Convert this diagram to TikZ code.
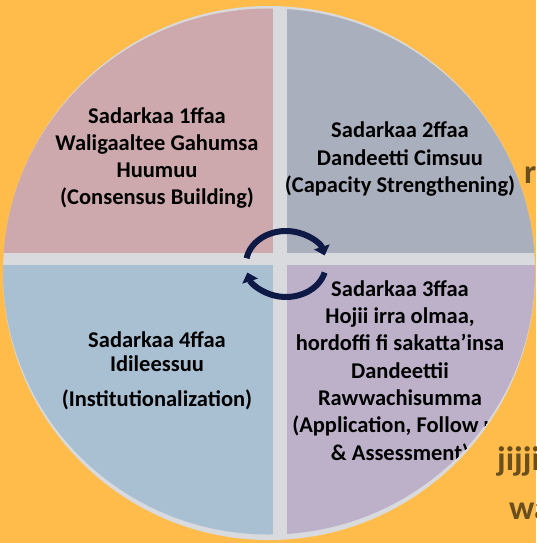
\documentclass[tikz,border=0pt]{standalone}
\usepackage{fontspec}
\setmainfont{Carlito}
\usetikzlibrary{arrows.meta}
\definecolor{bgorange}{RGB}{255,188,75}
\definecolor{bargray}{RGB}{216,218,222}
\definecolor{stageone}{RGB}{205,168,172}
\definecolor{stagetwo}{RGB}{169,175,188}
\definecolor{stagethree}{RGB}{189,177,202}
\definecolor{stagefour}{RGB}{169,191,210}
\definecolor{arrownavy}{RGB}{15,25,70}
\definecolor{wordbrown}{RGB}{105,78,32}
\begin{document}
\begin{tikzpicture}[x=1pt,y=-1pt]
		\tikzstyle{stage}=[align=center,text=black,font=\fontsize{22.5}{27.3}\selectfont\bfseries]
		\tikzstyle{faded}=[text=wordbrown,font=\fontsize{34}{40}\selectfont\bfseries,inner sep=0pt,anchor=base west]
		\tikzstyle{cycle}=[line width=6pt,draw=arrownavy,-{Triangle[width=16pt,length=9pt]}]
		\useasboundingbox(0,0)rectangle(536,543);
		\clip(0,0)rectangle(536,543);
		\fill[bgorange](0,0)rectangle(536,543);
		\node[faded](r)at(524,183){r};
		\node[faded](jj)at(497,470){jijji};
		\node[faded](wa)at(509,519){wa};
		\fill[bargray](269,273)ellipse[x radius=266,y radius=267];
		\begin{scope}
		\clip(269,271.5)ellipse[x radius=266,y radius=263];
		\fill[stageone](0,0)rectangle(273,253);
		\fill[stagetwo](287,0)rectangle(536,253);
		\fill[stagethree](287,265)rectangle(536,543);
		\fill[stagefour](0,265)rectangle(273,543);
		\node[stage](s1)at(157,158){Sadarkaa 1ffaa\\Waligaaltee Gahumsa\\Huumuu\\(Consensus Building)};
		\node[stage](s2)at(400,159){Sadarkaa 2ffaa\\Dandeetti Cimsuu\\(Capacity Strengthening)};
		\node[stage](s3)at(400,372){Sadarkaa 3ffaa\\Hojii irra olmaa,\\hordoffi fi sakatta’insa\\Dandeettii\\Rawwachisumma\\(Application, Follow up\\\& Assessment)};
		\node[stage](s4)at(157,371){Sadarkaa 4ffaa\\[-3.3pt]Idileessuu\\[7.7pt](Institutionalization)};
		\end{scope}
		\coordinate(c)at(286,264);
		\draw[cycle]([shift={(190:40 and 33)}]c)arc[start angle=190,end angle=345,x radius=40,y radius=33];
		\draw[cycle]([shift={(15:40 and 33)}]c)arc[start angle=15,end angle=165,x radius=40,y radius=33];
\end{tikzpicture}
\end{document}
